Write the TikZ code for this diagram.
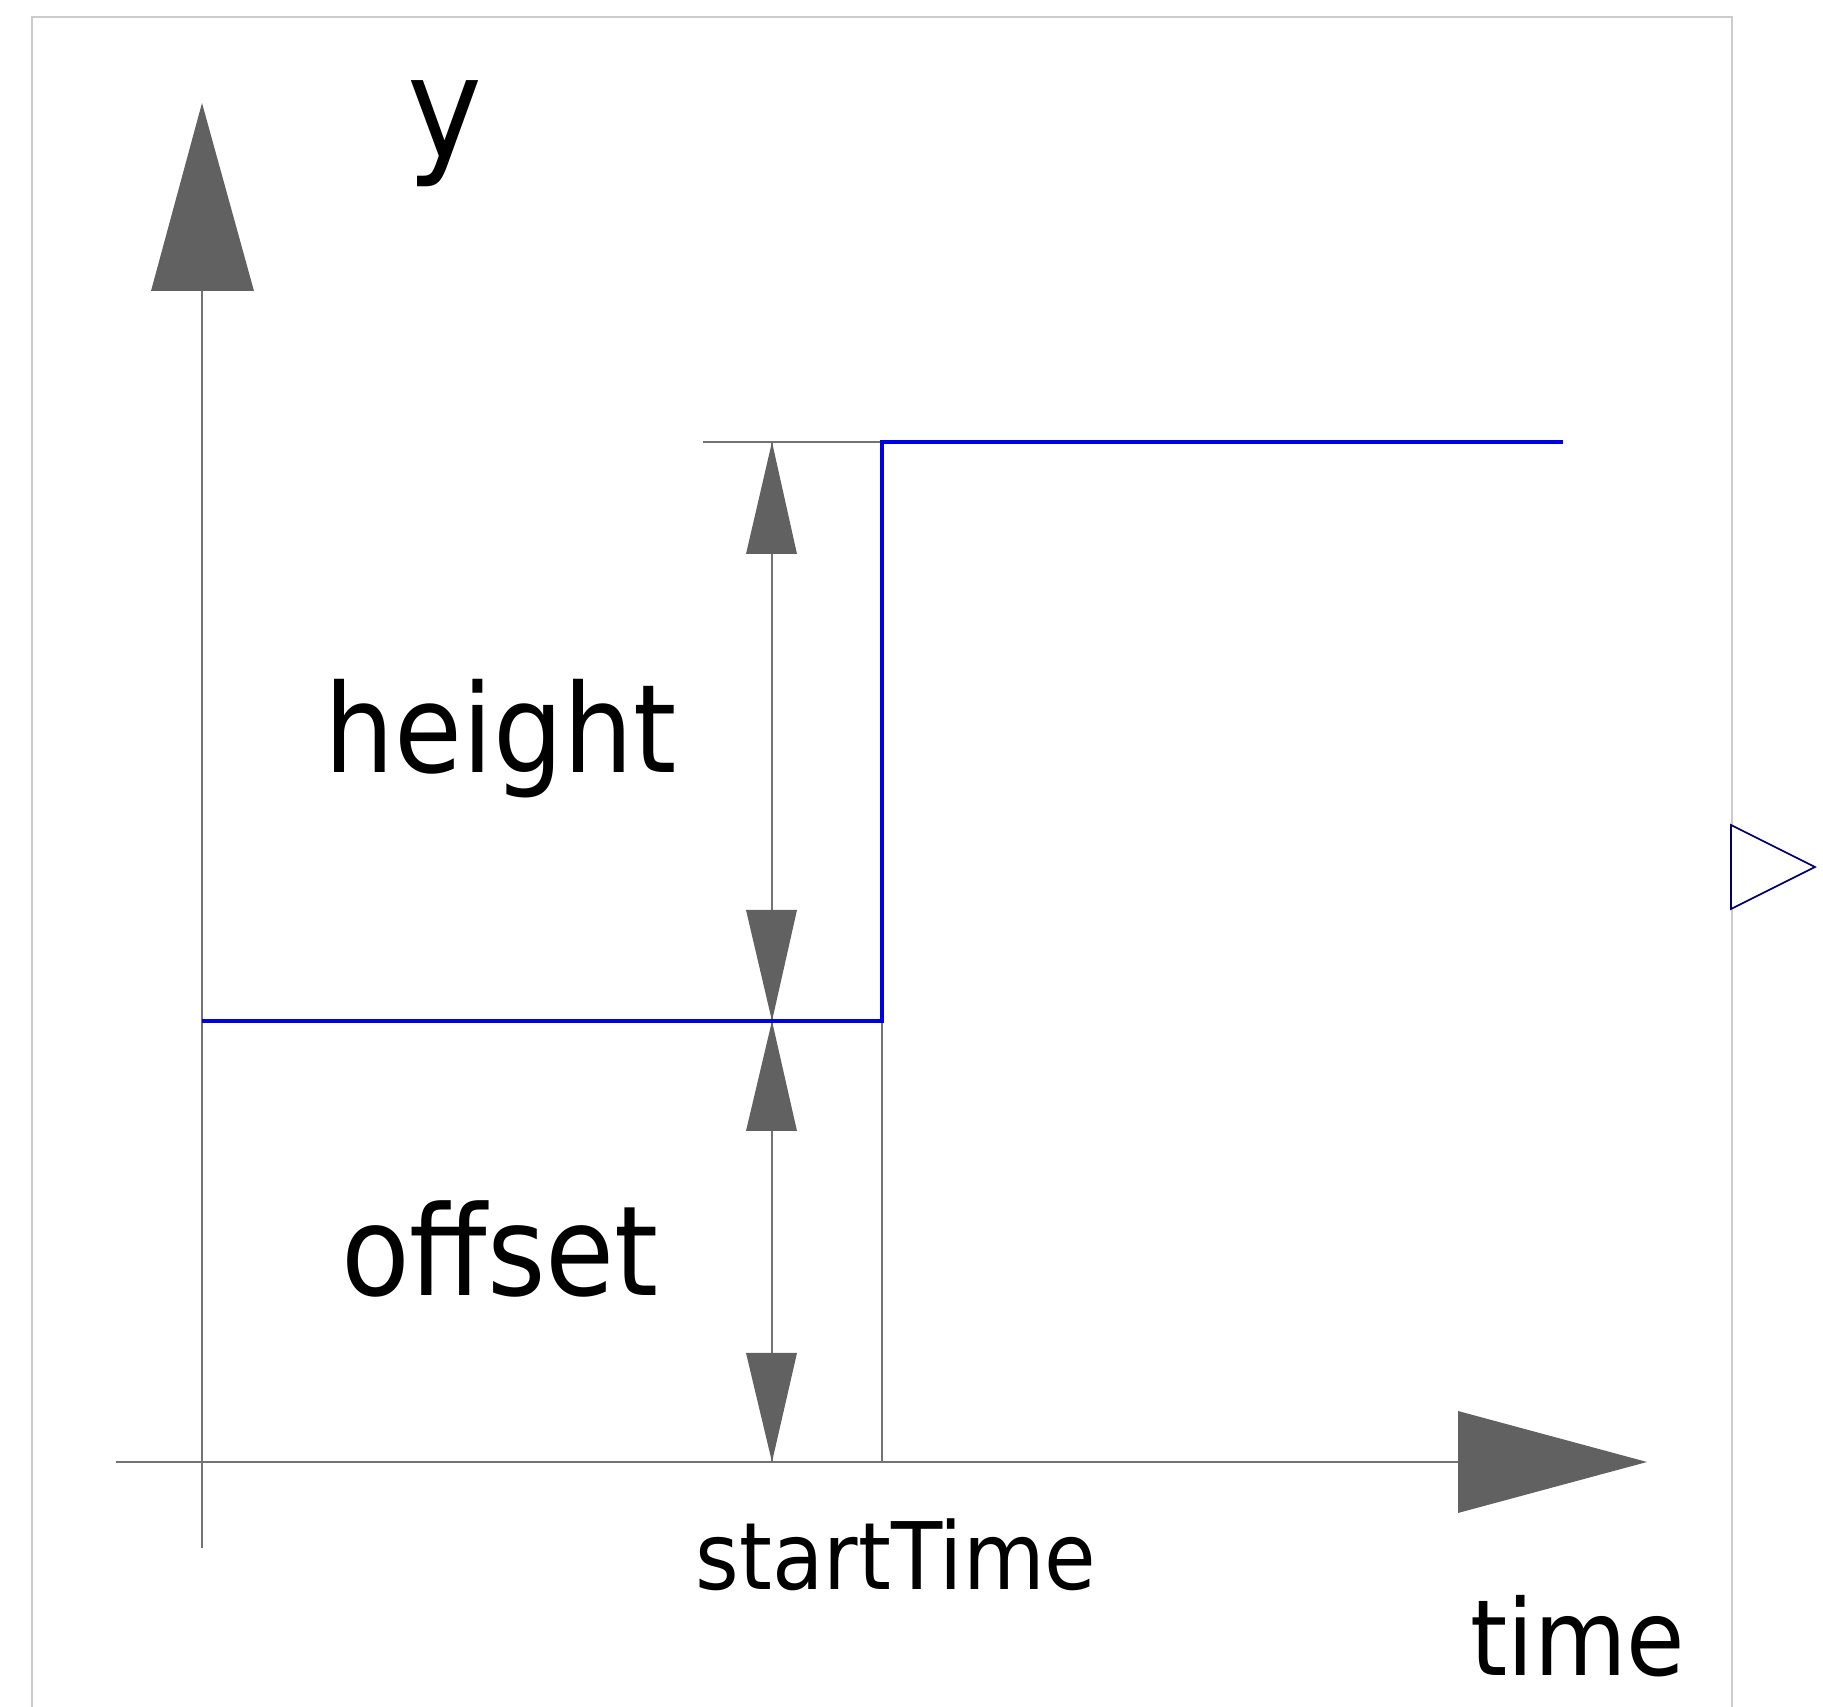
\documentclass[tikz,border=0pt]{standalone}
\usepackage{fontspec}
\setmainfont{DejaVu Sans}[FakeStretch=0.9]
\begin{document}
\begin{tikzpicture}[x=0.01cm,y=-0.01cm,
  axis/.style={draw=black!55,line width=0.6pt},
  tip/.style={fill=black!62,draw=none},
  sig/.style={draw=blue!90!black,line width=0.9pt},
  lbl/.style={anchor=base,inner sep=0pt,text=black}]
\useasboundingbox (0,0) rectangle (1823,1707);
% frame
\draw[black!20,line width=0.6pt] (32,1707) -- (32,17) -- (1732,17) -- (1732,1707);
% coordinates
\coordinate (ytop) at (202,291);
\coordinate (ybot) at (202,1548);
\coordinate (xleft) at (116,1462);
\coordinate (xright) at (1458,1462);
\coordinate (dtop) at (772,442);
\coordinate (dbot) at (772,1462);
\coordinate (etop) at (703,442);
\coordinate (eend) at (882,442);
\coordinate (slow) at (882,1021);
\coordinate (sbase) at (882,1462);
\coordinate (lowstart) at (202,1021);
\coordinate (highend) at (1563,442);
% axes
\draw[axis] (ytop) -- (ybot);
\draw[axis] (xleft) -- (xright);
\draw[axis] (dtop) -- (dbot);
\draw[axis] (etop) -- (eend);
\draw[axis] (slow) -- (sbase);
% arrow tips
\fill[tip] (202,103) -- (254,291) -- (151,291) -- cycle;
\fill[tip] (1647,1462) -- (1458,1411) -- (1458,1513) -- cycle;
\fill[tip] (772,442) -- (797,554) -- (746,554) -- cycle;
\fill[tip] (772,1021) -- (797,910) -- (746,910) -- cycle;
\fill[tip] (772,1021) -- (797,1131) -- (746,1131) -- cycle;
\fill[tip] (772,1462) -- (797,1353) -- (746,1353) -- cycle;
% signal
\draw[sig] (lowstart) -- (slow) -- (eend) -- (highend);
% output connector
\draw[draw=blue!40!black,fill=white,line width=0.5pt] (1731,825) -- (1815,867) -- (1731,909) -- cycle;
% labels
\node[lbl,font=\fontsize{40}{41}\selectfont] (ylab) at (445,158) {y};
\node[lbl,font=\fontsize{34.9}{36}\selectfont] (hlab) at (501,773) {height};
\node[lbl,font=\fontsize{35.5}{36}\selectfont] (olab) at (500,1296) {offset};
\node[lbl,font=\fontsize{26.5}{28}\selectfont] (slab) at (896,1590) {startTime};
\node[lbl,font=\fontsize{30}{31}\selectfont] (tlab) at (1578,1676) {time};
\end{tikzpicture}
\end{document}
